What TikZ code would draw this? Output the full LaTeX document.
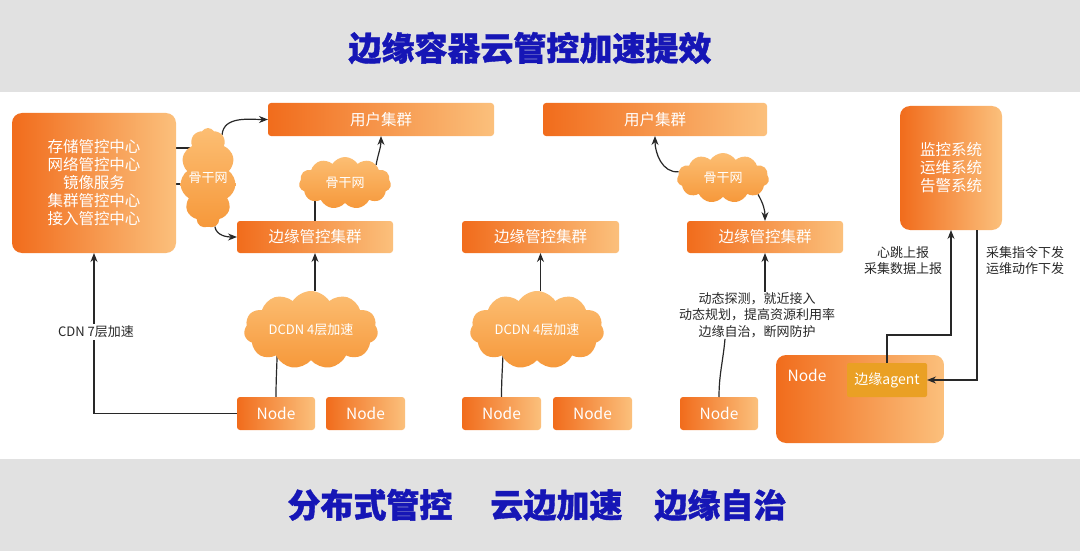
\documentclass[tikz,border=0pt]{standalone}
\usepackage{fontspec}
\setmainfont{Noto Sans CJK SC}
\newfontfamily\ttlfont{Noto Sans CJK SC}[BoldFeatures={FakeBold=1.2}]
\usetikzlibrary{shapes.symbols,arrows.meta,backgrounds,calc}
\definecolor{og1}{RGB}{241,108,28}
\definecolor{og2}{RGB}{251,192,124}
\definecolor{cl1}{RGB}{252,190,115}
\definecolor{cl2}{RGB}{246,152,58}
\definecolor{agentc}{RGB}{234,160,36}
\definecolor{band}{RGB}{225,225,225}
\definecolor{titleblue}{RGB}{22,22,182}
\definecolor{ln}{RGB}{40,40,40}
\begin{document}
\begin{tikzpicture}[x=1pt,y=-1pt,
  box/.style={rectangle, rounded corners=3pt, left color=og1, right color=og2, text=white,
    font=\fontsize{15.5}{18}\selectfont, minimum width=#1, minimum height=33pt,
    inner sep=0pt, outer sep=0pt, align=center},
  bigbox/.style={box=#1, rounded corners=10pt},
  cloudn/.style={cloud, cloud puffs=11, cloud puff arc=115, cloud ignores aspect,
    top color=cl1, bottom color=cl2, text=white, font=\fontsize{13}{15}\selectfont,
    inner sep=0pt, outer sep=0pt},
  lbl/.style={text=ln, font=\fontsize{13}{16.5}\selectfont, align=center, inner sep=0pt},
  conn/.style={draw=ln, line width=1.2pt},
  arr/.style={conn, -{Stealth[length=9pt,width=7pt]}},
  ttl/.style={text=titleblue, font=\ttlfont\fontsize{33}{38}\selectfont\bfseries, inner sep=0pt}
]
\useasboundingbox (0,0) rectangle (1080,551);
\begin{scope}[on background layer]
  \fill[white] (0,0) rectangle (1080,551);
  \fill[band] (0,0) rectangle (1080,92);
  \fill[band] (0,459) rectangle (1080,551);
\end{scope}

\node[ttl] (title) at (530,48) {边缘容器云管控加速提效};
\node[ttl] (footer) at (537,505) {分布式管控\hspace{38pt}云边加速\hspace{32pt}边缘自治};

% left column
\node[bigbox=164pt, minimum height=140pt] (big) at (94,183)
  {存储管控中心\\网络管控中心\\镜像服务\\集群管控中心\\接入管控中心};
\node[cloudn, minimum width=54pt, minimum height=100pt] (c1) at (208,178) {骨干网};
\node[box=226pt] (user1) at (381,119.5) {用户集群};
\node[box=156pt, minimum height=32pt] (edge1) at (315,237) {边缘管控集群};
\node[cloudn, minimum width=92pt, minimum height=52pt] (c2) at (345,183) {骨干网};
\node[cloudn, minimum width=134pt, minimum height=78pt] (d1) at (311,330) {DCDN 4层加速};
\node[box=78pt] (node1) at (276,413.5) {Node};
\node[box=79pt] (node2) at (365.5,413.5) {Node};

% middle column
\node[box=157pt, minimum height=32pt] (edge2) at (540.5,237) {边缘管控集群};
\node[cloudn, minimum width=134pt, minimum height=78pt] (d2) at (537,330) {DCDN 4层加速};
\node[box=79pt] (node3) at (501.5,413.5) {Node};
\node[box=79pt] (node4) at (592.5,413.5) {Node};

% right column
\node[box=224pt] (user2) at (655,119.5) {用户集群};
\node[cloudn, minimum width=92pt, minimum height=50pt] (c3) at (723,178) {骨干网};
\node[box=156pt, minimum height=32pt] (edge3) at (765,237) {边缘管控集群};
\node[lbl] (t3) at (757,315) {动态探测，就近接入\\动态规划，提高资源利用率\\边缘自治，断网防护};
\node[box=78pt] (node5) at (719,413.5) {Node};

% far right
\node[bigbox=102pt, minimum height=124pt] (mon) at (951,168) {监控系统\\运维系统\\告警系统};
\node[bigbox=168pt, minimum height=88pt] (bignode) at (860,399) {};
\node[text=white, font=\fontsize{15.5}{18}\selectfont, inner sep=0pt] (bnlabel)
  at ([xshift=31pt,yshift=-20pt]bignode.north west) {Node};
\node[rectangle, rounded corners=2pt, fill=agentc, text=white, font=\fontsize{14}{17}\selectfont,
  minimum width=80pt, minimum height=34pt, inner sep=0pt, outer sep=0pt] (agent) at (887,380) {边缘agent};
\node[lbl] (lab1) at (903,260.5) {心跳上报\\采集数据上报};
\node[lbl] (lab2) at (1025,260.5) {采集指令下发\\运维动作下发};

% connectors
\begin{scope}[on background layer]
  \draw[conn] ([yshift=35pt]big.east) -- ([yshift=35pt]big.east -| c1.center);
  \draw[conn] ([yshift=-1pt]big.east) -- ([yshift=-1pt]big.east -| c1.center);
  \draw[arr] (c1.72) to[out=85,in=180] (user1.west);
  \draw[arr] (c1.-82) to[out=-80,in=180] (edge1.west);
  \draw[conn] (edge1.north) -- (edge1.north |- c2.center);
  \draw[arr] (c2.30) to[out=80,in=-90] (user1.south);
  \draw[arr] (d1.north -| edge1.south) -- (edge1.south);
  \draw[conn] (node1.north) to[out=90,in=-88] ([xshift=-34pt]d1.center);
  \draw[arr] (d2.north -| edge2.south) -- (edge2.south);
  \draw[conn] (node3.north) to[out=90,in=-88] ([xshift=-34pt]d2.center);
  \draw[arr] (c3.172) to[out=185,in=-90] (user2.south);
  \draw[arr] (c3.-25) to[out=-60,in=90] (edge3.north);
\end{scope}
\draw[arr] (node1.west) -| (big.south);
\node[lbl, fill=white, inner sep=1.5pt] (cdn) at (96,332) {CDN 7层加速};
\draw[arr] (t3.north -| edge3.south) -- (edge3.south);
\draw[conn] (node5.north) to[out=90,in=-95] ([xshift=-32pt,yshift=-1pt]t3.south);
\draw[arr] (agent.north) -- ++(0,28pt) -| (mon.south);
\draw[arr] ([xshift=26pt]mon.south) |- (agent.east);
\end{tikzpicture}
\end{document}
